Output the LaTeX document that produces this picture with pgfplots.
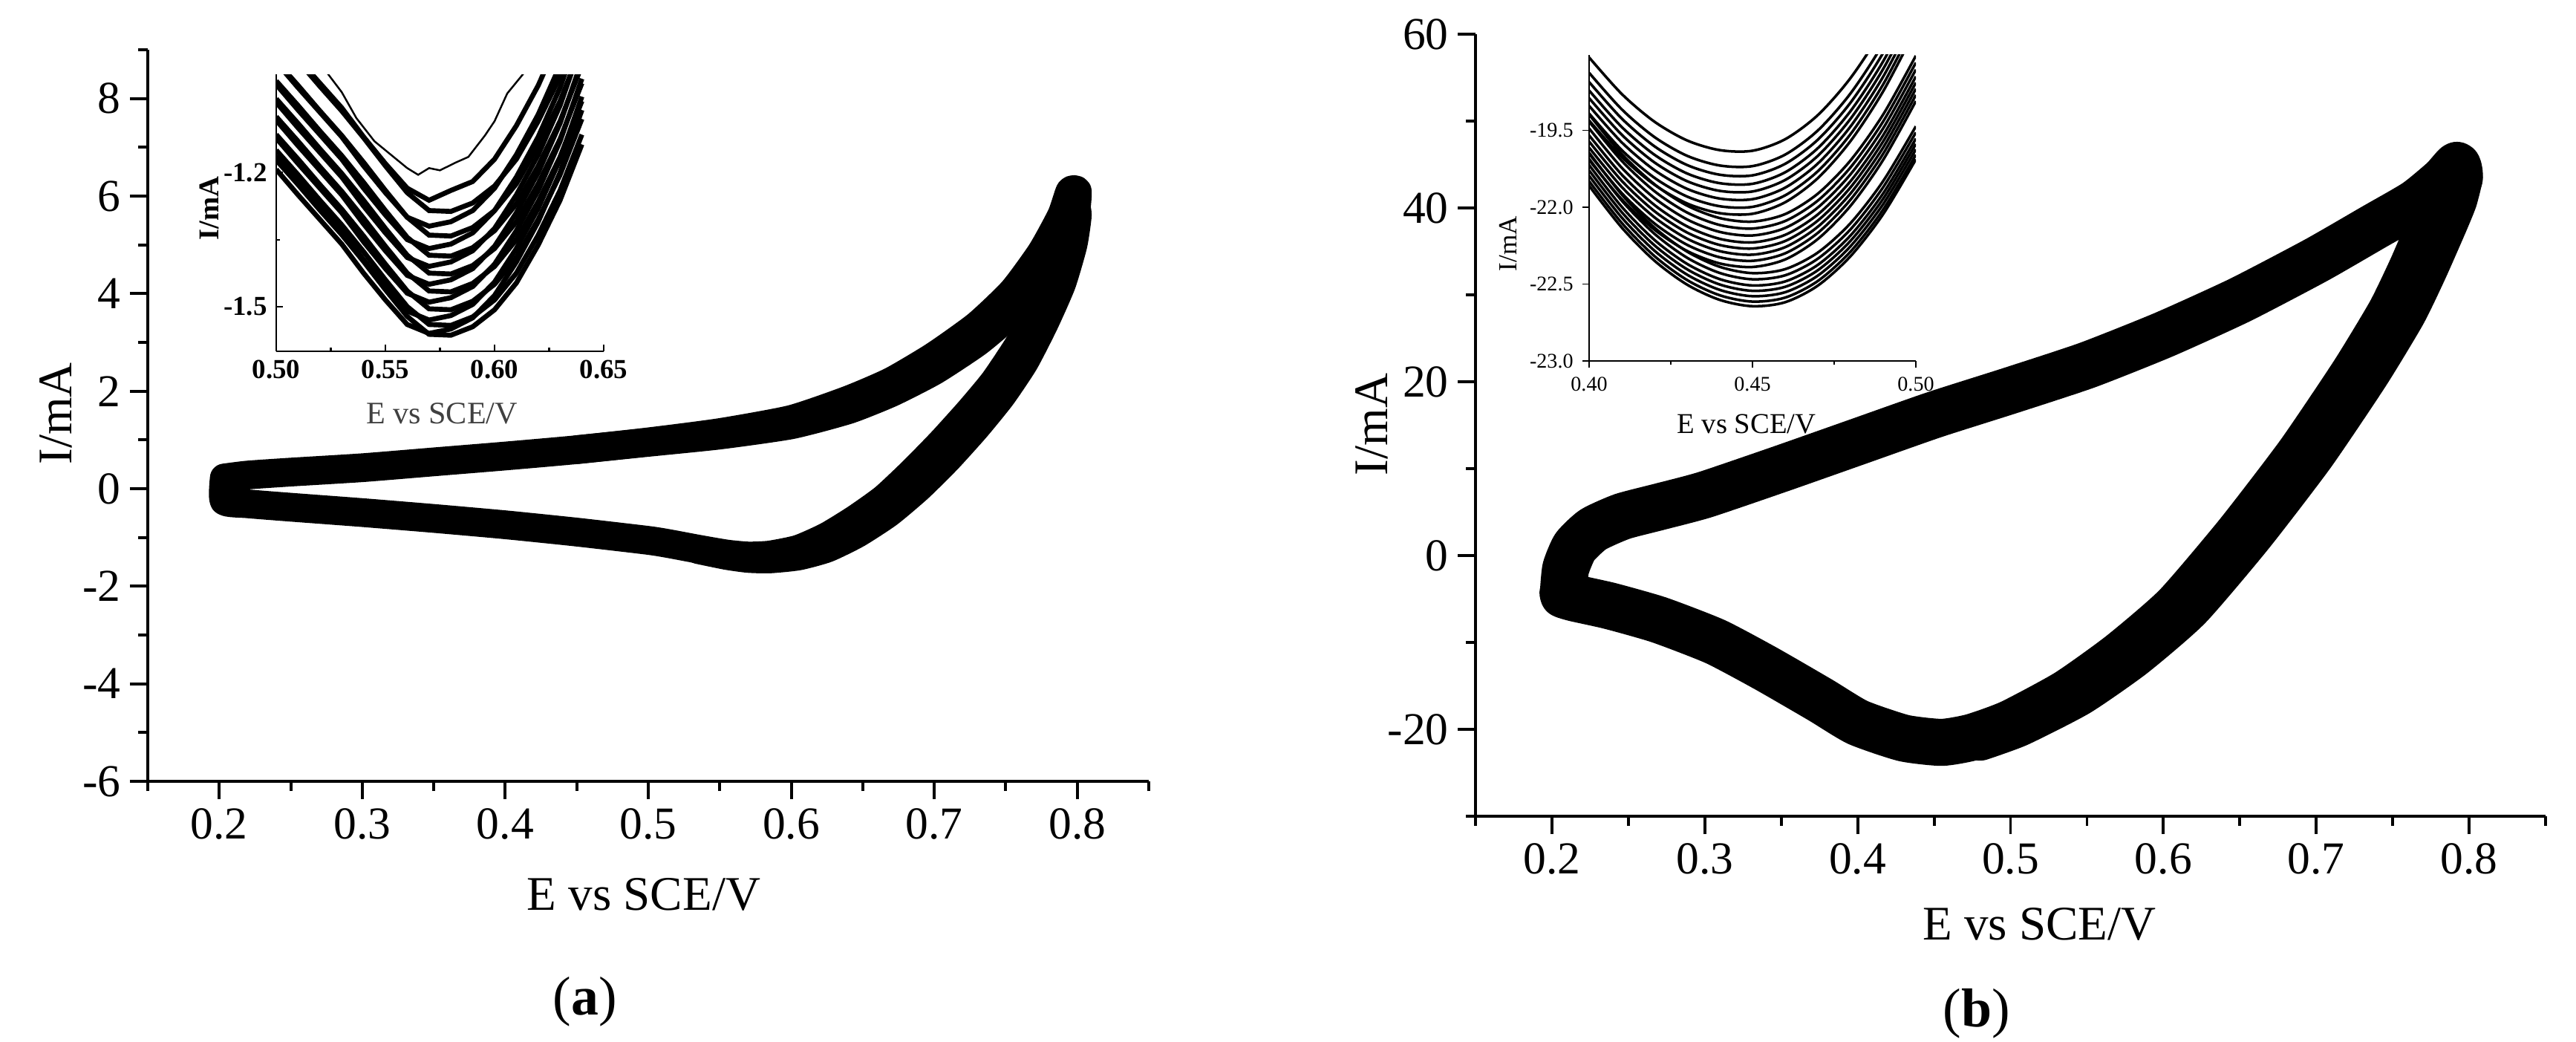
\documentclass[border=0pt]{standalone}
\usepackage{fontspec}
\setmainfont{Liberation Serif}
\usepackage{pgfplots}
\pgfplotsset{compat=1.18}
\usepackage{pgfplotstable}

% inset (a): cycles of the cathodic peak, x in V, I in mA
\pgfplotstableread{
x c1 c2 c3 c4 c5 c6 c7 c8 c9 c10 c11 c12 c13 c14 c15 c16
0.50 -0.888 -0.895 -0.953 -0.950 -1.003 -0.995 -1.043 -1.035 -1.083 -1.075 -1.123 -1.115 -1.163 -1.150 -1.193 -1.172
0.51 -0.945 -0.950 -1.010 -1.005 -1.060 -1.050 -1.100 -1.090 -1.140 -1.130 -1.180 -1.170 -1.220 -1.205 -1.250 -1.227
0.52 -1.000 -1.007 -1.065 -1.062 -1.115 -1.107 -1.155 -1.147 -1.195 -1.187 -1.235 -1.227 -1.275 -1.262 -1.305 -1.284
0.53 -1.055 -1.062 -1.120 -1.117 -1.170 -1.162 -1.210 -1.202 -1.250 -1.242 -1.290 -1.282 -1.330 -1.317 -1.360 -1.339
0.54 -1.120 -1.122 -1.185 -1.177 -1.235 -1.222 -1.275 -1.262 -1.315 -1.302 -1.355 -1.342 -1.395 -1.377 -1.425 -1.399
0.55 -1.180 -1.185 -1.245 -1.240 -1.295 -1.285 -1.335 -1.325 -1.375 -1.365 -1.415 -1.405 -1.455 -1.440 -1.485 -1.462
0.56 -1.235 -1.245 -1.300 -1.300 -1.350 -1.345 -1.390 -1.385 -1.430 -1.425 -1.470 -1.465 -1.510 -1.500 -1.540 -1.522
0.57 -1.262 -1.285 -1.320 -1.340 -1.370 -1.385 -1.410 -1.425 -1.450 -1.465 -1.490 -1.505 -1.530 -1.540 -1.560 -1.562
0.58 -1.240 -1.287 -1.310 -1.342 -1.360 -1.387 -1.400 -1.427 -1.440 -1.467 -1.480 -1.507 -1.520 -1.542 -1.550 -1.564
0.59 -1.220 -1.268 -1.285 -1.323 -1.335 -1.368 -1.375 -1.408 -1.415 -1.448 -1.455 -1.488 -1.495 -1.523 -1.525 -1.545
0.60 -1.170 -1.230 -1.235 -1.285 -1.285 -1.330 -1.325 -1.370 -1.365 -1.410 -1.405 -1.450 -1.445 -1.485 -1.475 -1.507
0.61 -1.095 -1.170 -1.160 -1.225 -1.210 -1.270 -1.250 -1.310 -1.290 -1.350 -1.330 -1.390 -1.370 -1.425 -1.400 -1.447
0.62 -1.005 -1.085 -1.070 -1.140 -1.120 -1.185 -1.160 -1.225 -1.200 -1.265 -1.240 -1.305 -1.280 -1.340 -1.310 -1.362
0.63 -0.895 -0.985 -0.960 -1.040 -1.010 -1.085 -1.050 -1.125 -1.090 -1.165 -1.130 -1.205 -1.170 -1.240 -1.200 -1.262
0.64 -0.755 -0.860 -0.820 -0.915 -0.870 -0.960 -0.910 -1.000 -0.950 -1.040 -0.990 -1.080 -1.030 -1.115 -1.060 -1.137
}\insetA

% inset (b): cycles of the cathodic peak, x in V, I in mA (as labelled)
\pgfplotstableread{
x k0 k1 k2 k3 k4 k5 k6 k7 k8 k9 k10 k11 k12 k13 k14 k15 k16 k17 k18 k19 k20 k21 k22
0.40 -21.026 -21.126 -21.186 -21.241 -21.291 -21.341 -21.391 -21.436 -21.398 -21.443 -21.488 -21.533 -21.573 -21.613 -21.653 -21.693 -21.646 -21.686 -21.726 -21.761 -21.796 -21.831 -21.861
0.41 -21.264 -21.364 -21.424 -21.479 -21.529 -21.579 -21.629 -21.674 -21.654 -21.699 -21.744 -21.789 -21.829 -21.869 -21.909 -21.949 -21.918 -21.958 -21.998 -22.033 -22.068 -22.103 -22.133
0.42 -21.444 -21.544 -21.604 -21.659 -21.709 -21.759 -21.809 -21.854 -21.851 -21.896 -21.941 -21.986 -22.026 -22.066 -22.106 -22.146 -22.133 -22.173 -22.213 -22.248 -22.283 -22.318 -22.348
0.43 -21.566 -21.666 -21.726 -21.781 -21.831 -21.881 -21.931 -21.976 -21.990 -22.035 -22.080 -22.125 -22.165 -22.205 -22.245 -22.285 -22.289 -22.329 -22.369 -22.404 -22.439 -22.474 -22.504
0.44 -21.629 -21.729 -21.789 -21.844 -21.894 -21.944 -21.994 -22.039 -22.071 -22.116 -22.161 -22.206 -22.246 -22.286 -22.326 -22.366 -22.388 -22.428 -22.468 -22.503 -22.538 -22.573 -22.603
0.45 -21.633 -21.733 -21.793 -21.848 -21.898 -21.948 -21.998 -22.043 -22.094 -22.139 -22.184 -22.229 -22.269 -22.309 -22.349 -22.389 -22.429 -22.469 -22.509 -22.544 -22.579 -22.614 -22.644
0.46 -21.558 -21.658 -21.718 -21.773 -21.823 -21.873 -21.923 -21.968 -22.045 -22.090 -22.135 -22.180 -22.220 -22.260 -22.300 -22.340 -22.403 -22.443 -22.483 -22.518 -22.553 -22.588 -22.618
0.47 -21.401 -21.501 -21.561 -21.616 -21.666 -21.716 -21.766 -21.811 -21.912 -21.957 -22.002 -22.047 -22.087 -22.127 -22.167 -22.207 -22.295 -22.335 -22.375 -22.410 -22.445 -22.480 -22.510
0.48 -21.160 -21.260 -21.320 -21.375 -21.425 -21.475 -21.525 -21.570 -21.696 -21.741 -21.786 -21.831 -21.871 -21.911 -21.951 -21.991 -22.104 -22.144 -22.184 -22.219 -22.254 -22.289 -22.319
0.49 -20.836 -20.936 -20.996 -21.051 -21.101 -21.151 -21.201 -21.246 -21.397 -21.442 -21.487 -21.532 -21.572 -21.612 -21.652 -21.692 -21.830 -21.870 -21.910 -21.945 -21.980 -22.015 -22.045
0.50 -20.430 -20.530 -20.590 -20.645 -20.695 -20.745 -20.795 -20.840 -21.015 -21.060 -21.105 -21.150 -21.190 -21.230 -21.270 -21.310 -21.474 -21.514 -21.554 -21.589 -21.624 -21.659 -21.689
}\insetB

\pgfplotsset{
  mainax/.style={
    scale only axis,
    axis x line*=bottom, axis y line*=left,
    tick align=outside,
    major tick length=0.24cm, minor tick length=0.13cm,
    every tick/.style={black, line width=1.1pt},
    axis line style={line width=1.1pt},
    tick label style={font=\fontsize{17.5}{20}\selectfont},
    label style={font=\fontsize{18.5}{21}\selectfont},
    /pgf/number format/assume math mode=true,
    xtick={0.2,0.3,0.4,0.5,0.6,0.7,0.8},
    minor xtick={0.15,0.25,0.35,0.45,0.55,0.65,0.75,0.85},
    xticklabel style={/pgf/number format/.cd, fixed, fixed zerofill, precision=1},
    xmin=0.15, xmax=0.85,
    xlabel={E vs SCE/V}, ylabel={I/mA},
  },
  band/.style={black, line width=#1, line join=round, line cap=round, smooth, tension=0.35},
}

\begin{document}
\begin{tikzpicture}
\path[use as bounding box] (0,0) rectangle (34.69,14.02);

% ---------------- panel (a) ----------------
\begin{axis}[mainax,
  at={(1.99cm,3.50cm)}, anchor=south west,
  width=13.48cm, height=9.85cm,
  ymin=-6, ymax=9,
  ytick={-6,-4,-2,0,2,4,6,8},
  minor ytick={-5,-3,-1,1,3,5,7,9},
  xlabel style={at={(axis description cs:0.4955,-0.155)}, anchor=center},
  ylabel style={at={(axis description cs:-0.092,0.5025)}, anchor=center},
]
% first cycles
\addplot[band=11pt] coordinates {
(0.2035,0.22) (0.22,0.28) (0.25,0.34) (0.30,0.43) (0.35,0.55) (0.40,0.67)
(0.45,0.80) (0.50,0.96) (0.55,1.15) (0.60,1.42) (0.64,1.82) (0.67,2.20)
(0.70,2.72) (0.73,3.35) (0.755,4.05) (0.775,4.85) (0.789,5.6) (0.795,6.1)
(0.8,6.1) (0.799,5.7) (0.795,5.3) (0.786,4.5) (0.772,3.6) (0.758,2.9)
(0.742,2.2) (0.725,1.6) (0.705,0.95) (0.685,0.35) (0.665,-0.2) (0.645,-0.62)
(0.625,-0.98) (0.605,-1.24) (0.585,-1.36) (0.57,-1.38) (0.555,-1.34)
(0.535,-1.24) (0.515,-1.13) (0.50,-1.06) (0.45,-0.89) (0.40,-0.74)
(0.35,-0.61) (0.30,-0.49) (0.25,-0.38) (0.22,-0.31) (0.2035,-0.25) (0.2035,0.22)
};
% last cycles
\addplot[band=11pt] coordinates {
(0.45,0.80) (0.50,0.95) (0.55,1.10) (0.60,1.31) (0.64,1.62) (0.67,1.97)
(0.70,2.42) (0.73,3.0) (0.752,3.55) (0.772,4.25) (0.788,5.1) (0.798,5.8)
(0.8,5.6) (0.797,5.0) (0.789,4.2) (0.777,3.4) (0.763,2.6) (0.747,1.9)
(0.729,1.25) (0.709,0.6) (0.689,0.02) (0.668,-0.5) (0.646,-0.92)
(0.625,-1.22) (0.605,-1.38) (0.585,-1.44) (0.57,-1.43) (0.555,-1.37)
(0.535,-1.25)
};
\end{axis}

% inset (a)
\begin{axis}[
  scale only axis,
  at={(3.72cm,9.29cm)}, anchor=south west,
  width=4.41cm, height=3.73cm,
  axis x line*=bottom, axis y line*=left,
  xmin=0.50, xmax=0.65, ymin=-1.6, ymax=-0.98,
  tick align=inside,
  major tick length=0.09cm, minor tick length=0.05cm,
  every tick/.style={black, line width=0.6pt},
  axis line style={line width=0.8pt},
  xtick={0.50,0.55,0.60,0.65}, minor xtick={0.525,0.575,0.625},
  ytick={-1.5,-1.2}, minor ytick={-1.35,-1.05},
  tick label style={font=\fontsize{10.5}{12}\bfseries},
  /pgf/number format/assume math mode=true,
  xticklabel style={/pgf/number format/.cd, fixed, fixed zerofill, precision=2},
  yticklabel style={/pgf/number format/.cd, fixed, fixed zerofill, precision=1},
  xlabel={E vs SCE/V}, ylabel={I/mA},
  xlabel style={font=\fontsize{12}{14}\selectfont, text=black!75, at={(axis description cs:0.506,-0.225)}, anchor=center},
  ylabel style={font=\fontsize{11}{13}\bfseries, at={(axis description cs:-0.204,0.517)}, anchor=center},
]
\addplot[black, line width=0.7pt] coordinates {
(0.515,-0.93) (0.5238,-0.98) (0.53,-1.02) (0.5367,-1.078) (0.545,-1.13)
(0.550,-1.15) (0.555,-1.17) (0.560,-1.19) (0.565,-1.205) (0.570,-1.19)
(0.575,-1.195) (0.582,-1.178) (0.588,-1.165) (0.5956,-1.117) (0.600,-1.085)
(0.6058,-1.023) (0.613,-0.98) (0.618,-0.94)
};
\pgfplotsinvokeforeach{1,...,16}{
  \addplot[black, line width=1.9pt] table[x=x, y=c#1] {\insetA};
}
\end{axis}

% ---------------- panel (b) ----------------
\begin{axis}[mainax,
  at={(19.87cm,3.03cm)}, anchor=south west,
  width=14.41cm, height=10.53cm,
  ymin=-30, ymax=60,
  ytick={-20,0,20,40,60},
  minor ytick={-30,-10,10,30,50},
  xlabel style={at={(axis description cs:0.527,-0.138)}, anchor=center},
  ylabel style={at={(axis description cs:-0.097,0.501)}, anchor=center},
]
\addplot[band=18pt] coordinates {
(0.2075,-4.2) (0.209,-1.5) (0.215,1.0) (0.227,3.0) (0.246,4.5) (0.27,5.6)
(0.30,7.0) (0.35,10.0) (0.40,13.1) (0.45,16.2) (0.50,19.0) (0.55,21.9)
(0.60,25.4) (0.65,29.4) (0.70,34.0) (0.7375,37.8) (0.765,40.6) (0.783,43.2)
(0.792,44.9) (0.7935,43.4) (0.786,41.0) (0.776,38.4) (0.7625,33.0)
(0.7486,27.95) (0.7247,21.0) (0.689,11.7) (0.6488,2.47) (0.6084,-5.87)
(0.572,-11.4) (0.537,-15.8) (0.50,-19.3) (0.475,-20.9) (0.455,-21.5)
(0.43,-21.0) (0.40,-19.2) (0.3754,-16.6) (0.34,-13.0) (0.3068,-9.9)
(0.27,-7.4) (0.238,-5.8) (0.215,-4.9) (0.2075,-4.5) (0.2075,-4.2)
};
\addplot[band=18pt] coordinates {
(0.7935,43.4) (0.790,41.0) (0.784,38.4) (0.7705,33.0) (0.7566,27.95)
(0.7327,21.0) (0.697,11.7) (0.6568,2.47) (0.6164,-5.87) (0.580,-11.4)
(0.544,-15.8) (0.505,-19.3) (0.48,-20.9)
};
\end{axis}

% inset (b)
\begin{axis}[
  scale only axis,
  at={(21.40cm,9.16cm)}, anchor=south west,
  width=4.40cm, height=4.12cm,
  axis x line*=bottom, axis y line*=left,
  xmin=0.40, xmax=0.50, ymin=-23, ymax=-21.01,
  tick align=outside,
  major tick length=0.09cm, minor tick length=0.05cm,
  every tick/.style={black, line width=0.5pt},
  axis line style={line width=0.7pt},
  xtick={0.40,0.45,0.50}, xticklabels={0.40,0.45,0.50},
  minor xtick={0.425,0.475},
  ytick={-23,-22.5,-22,-21.5}, yticklabels={-23.0,-22.5,-22.0,-19.5},
  tick label style={font=\fontsize{8}{9}\selectfont},
  xlabel={E vs SCE/V}, ylabel={I/mA},
  xlabel style={font=\fontsize{11}{13}\selectfont, at={(axis description cs:0.482,-0.206)}, anchor=center},
  ylabel style={font=\fontsize{10}{12}\selectfont, at={(axis description cs:-0.248,0.383)}, anchor=center},
]
\pgfplotsinvokeforeach{0,...,22}{
  \addplot[black, line width=1pt, smooth] table[x=x, y=k#1] {\insetB};
}
\end{axis}

\node[font=\fontsize{21}{24}\selectfont] at (7.88,0.53) {(\textbf{a})};
\node[font=\fontsize{21}{24}\selectfont] at (26.62,0.37) {(\textbf{b})};
\end{tikzpicture}
\end{document}
